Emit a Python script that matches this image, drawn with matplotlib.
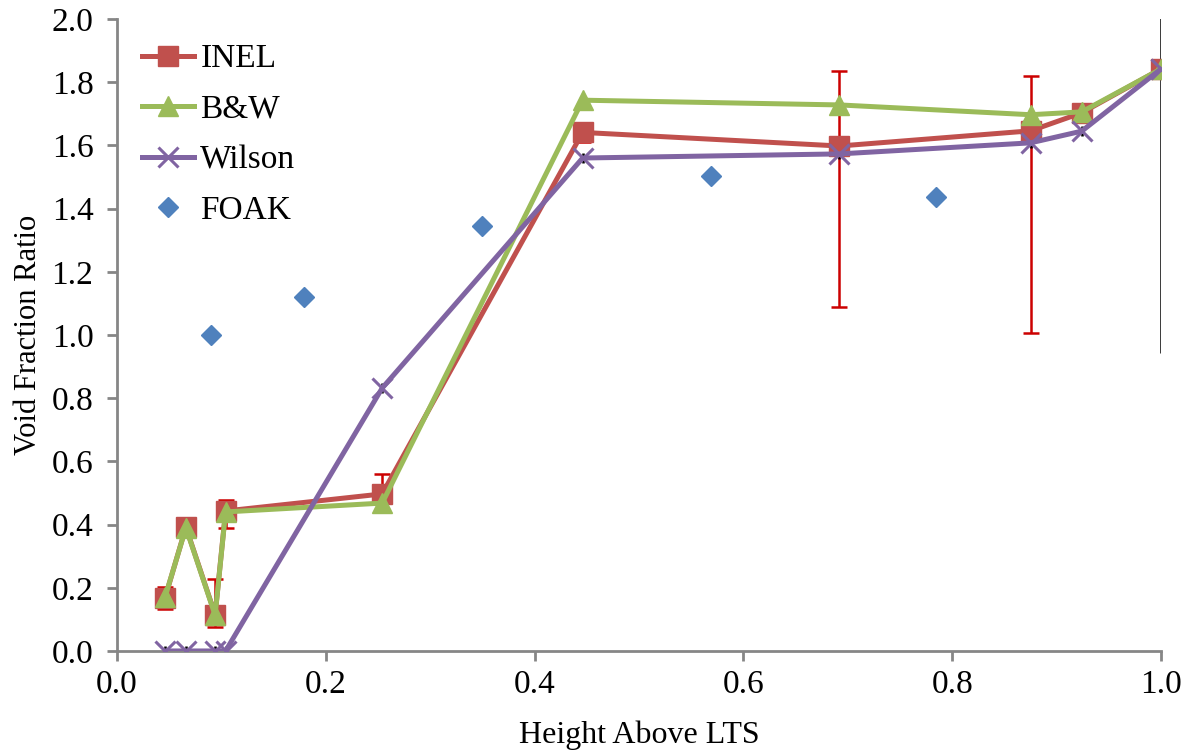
import numpy as np
import matplotlib.pyplot as plt

plt.rcParams['font.family'] = ['Liberation Serif', 'DejaVu Serif']

# Height above LTS for the INEL / B&W / Wilson sets
height = [0.046, 0.066, 0.094, 0.104, 0.254, 0.446, 0.692, 0.875, 0.924, 1.0]

inel = [0.168, 0.392, 0.115, 0.443, 0.497, 1.641, 1.598, 1.646, 1.703, 1.842]
inel_err_lo = [0.035, 0.03, 0.04, 0.054, 0.03, 0.03, 0.509, 0.640, 0.02, 0.0]
inel_err_hi = [0.035, 0.03, 0.114, 0.035, 0.063, 0.03, 0.237, 0.174, 0.02, 0.0]

bw = [0.170, 0.390, 0.113, 0.440, 0.468, 1.743, 1.728, 1.697, 1.706, 1.842]

wilson = [0.0, 0.0, 0.0, 0.0, 0.832, 1.560, 1.573, 1.608, 1.645, 1.842]
wilson_err_lo = [0.015, 0.015, 0.015, 0.015, 0.015, 0.015, 0.015, 0.015, 0.015, 0.9]
wilson_err_hi = [0.015, 0.015, 0.015, 0.015, 0.015, 0.015, 0.015, 0.015, 0.015, 0.3]

foak_x = [0.090, 0.179, 0.350, 0.569, 0.784]
foak_y = [1.000, 1.120, 1.345, 1.503, 1.437]

fig = plt.figure(figsize=(11.89, 7.53), dpi=100)
ax = fig.add_axes([0.0984, 0.1355, 0.8781, 0.8393])

# error bars sit underneath the series lines
ax.errorbar(height, inel, yerr=[inel_err_lo, inel_err_hi], fmt='none',
            ecolor='#CC0000', elinewidth=1.8, capsize=6, capthick=1.8, zorder=1)
ax.errorbar(height, wilson, yerr=[wilson_err_lo, wilson_err_hi], fmt='none',
            ecolor='black', elinewidth=1.8, capsize=0, zorder=1)

ax.plot(height, inel, color='#C0504D', lw=3.6, marker='s', ms=14,
        label='INEL', zorder=3)
ax.plot(height, bw, color='#9BBB59', lw=3.6, marker='^', ms=15,
        label='B&W', zorder=4)
ax.plot(height, wilson, color='#8064A2', lw=3.6, marker='x', ms=15,
        mew=2.2, label='Wilson', zorder=5)
ax.plot(foak_x, foak_y, ls='none', color='#4F81BD', marker='D', ms=10,
        label='FOAK', zorder=6)

ax.set_xlim(0, 1.0)
ax.set_ylim(0, 2.0)
ax.set_xticks(np.arange(0, 1.01, 0.2))
ax.set_yticks(np.arange(0, 2.01, 0.2))
ax.xaxis.set_major_formatter(plt.FormatStrFormatter('%.1f'))
ax.yaxis.set_major_formatter(plt.FormatStrFormatter('%.1f'))

for side in ['top', 'right']:
    ax.spines[side].set_visible(False)
for side in ['left', 'bottom']:
    ax.spines[side].set_color('#868686')
    ax.spines[side].set_linewidth(2)
ax.tick_params(direction='out', length=7, width=2, color='#868686',
               labelsize=24)
ax.tick_params(axis='y', pad=10)
ax.tick_params(axis='x', pad=6)

ax.set_xlabel('Height Above LTS', fontsize=23, labelpad=15)
ax.set_ylabel('Void Fraction Ratio', fontsize=22, labelpad=6)

ax.legend(loc='upper left', frameon=False, fontsize=24, handlelength=1.55,
          handletextpad=0.2, labelspacing=0.6, borderaxespad=0.35)

fig.savefig('out.png', dpi=100)
